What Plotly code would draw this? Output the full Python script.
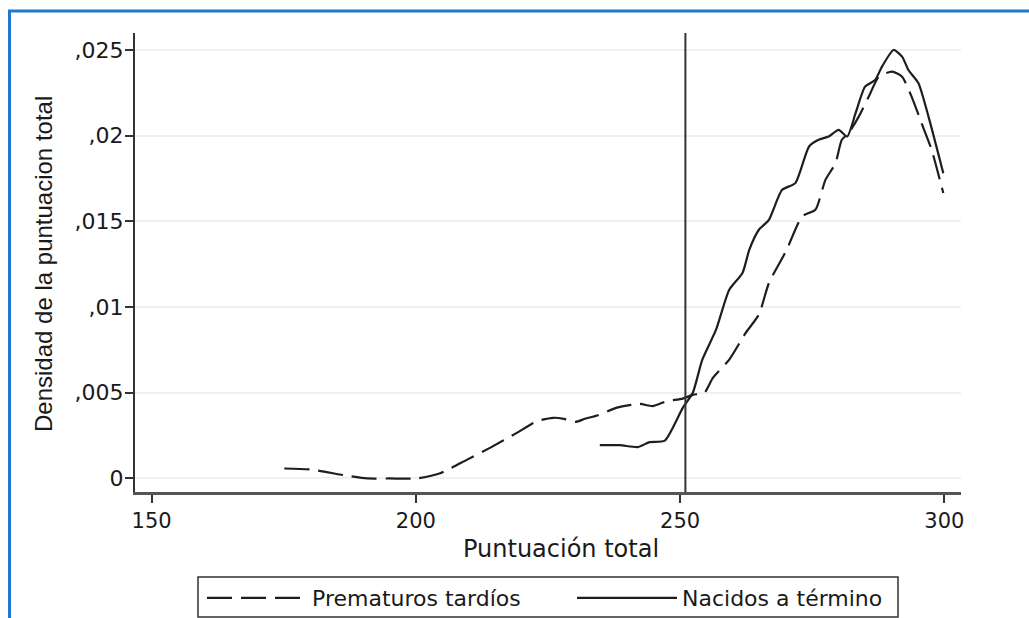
import plotly.graph_objects as go

# Data
prem_x = [175.1, 180.1, 186.4, 190.8, 195.0, 200.2, 204.6, 209.7, 214.1, 219.1, 222.9, 226.0,
          228.0, 230.2, 232.0, 234.5, 237.9, 242.3, 244.8, 247.4, 250.5, 252.4, 254.6, 256.2,
          259.3, 262.4, 264.9, 266.8, 270.1, 273.1, 275.6, 277.5, 279.4, 280.6, 281.9, 283.8,
          285.7, 287.6, 290.1, 292.0, 293.8, 295.7, 297.6, 299.8]
prem_y = [0.00058, 0.00052, 0.00019, 0.0, 0.0, 0.0, 0.0003, 0.0011, 0.0018, 0.00266, 0.00334, 0.00354,
          0.00348, 0.0033, 0.00348, 0.00369, 0.00412, 0.00435, 0.00422, 0.0045, 0.00466, 0.00488, 0.005, 0.00587,
          0.00693, 0.00849, 0.00956, 0.0114, 0.0133, 0.01529, 0.01568, 0.01742, 0.0184, 0.01976, 0.02015, 0.02111,
          0.02228, 0.02344, 0.02374, 0.02344, 0.02228, 0.02072, 0.01917, 0.01665]

term_x = [234.8, 238.6, 242.0, 244.2, 247.1, 250.5, 252.4, 254.2, 256.8, 259.3, 261.8, 263.1,
          264.9, 266.8, 269.3, 271.8, 274.4, 276.2, 278.1, 280.0, 281.6, 283.2, 285.0, 286.9,
          288.2, 290.4, 292.0, 293.2, 295.1, 297.0, 299.8]
term_y = [0.00194, 0.00194, 0.00183, 0.00212, 0.00221, 0.00412, 0.005, 0.00693, 0.00868, 0.01101, 0.01199, 0.01335,
          0.01451, 0.01509, 0.01684, 0.01723, 0.01937, 0.01976, 0.01995, 0.02034, 0.01995, 0.02131, 0.02286, 0.02325,
          0.02403, 0.025, 0.02461, 0.02383, 0.02306, 0.02111, 0.01781]

cutoff_x = 251

series_names = ["Prematuros tardíos", "Nacidos a término"]
x_ticks = [150, 200, 250, 300]
x_ticklabels = ["150", "200", "250", "300"]
y_ticks = [0, 0.005, 0.01, 0.015, 0.02, 0.025]
y_ticklabels = ["0", ",005", ",01", ",015", ",02", ",025"]

W, H = 1029, 618
ML, MR, MT, MB = 135, 68, 33, 126
PW, PH = W - ML - MR, H - MT - MB

def px_x(p):
    return (p - ML) / PW

def px_y(p):
    return (H - MB - p) / PH

LINE = "#1e1e1e"
TXT = "#1a1a1a"

fig = go.Figure()
fig.add_trace(go.Scatter(
    x=prem_x, y=prem_y, mode="lines", name=series_names[0],
    line=dict(color=LINE, width=2.2, dash="25px,9px", shape="spline", smoothing=0.6),
))
fig.add_trace(go.Scatter(
    x=term_x, y=term_y, mode="lines", name=series_names[1],
    line=dict(color=LINE, width=2.2, shape="spline", smoothing=0.6),
))

shapes = [
    dict(type="line", xref="x", yref="paper", x0=cutoff_x, x1=cutoff_x, y0=0, y1=1,
         line=dict(color="#333333", width=2)),
    # blue frame (left and top)
    dict(type="line", xref="paper", yref="paper", x0=px_x(9.5), x1=px_x(9.5), y0=px_y(10), y1=px_y(625),
         line=dict(color="#1f78d1", width=3)),
    dict(type="line", xref="paper", yref="paper", x0=px_x(8), x1=px_x(1035), y0=px_y(11), y1=px_y(11),
         line=dict(color="#1f78d1", width=3)),
    # legend box
    dict(type="rect", xref="paper", yref="paper", x0=px_x(198), x1=px_x(898), y0=px_y(577), y1=px_y(617),
         line=dict(color="#333333", width=1.5), fillcolor="rgba(0,0,0,0)"),
]

annotations = [
    dict(text="Puntuación total", xref="paper", yref="paper", x=px_x(561), y=px_y(549),
         xanchor="center", yanchor="middle", showarrow=False,
         font=dict(family="DejaVu Sans", size=24, color=TXT)),
    dict(text="Densidad de la puntuacion total", xref="paper", yref="paper", x=px_x(43), y=px_y(264),
         xanchor="center", yanchor="middle", showarrow=False, textangle=-90,
         font=dict(family="Liberation Sans, Arial", size=24, color=TXT)),
]

fig.update_layout(
    width=W, height=H,
    margin=dict(l=ML, r=MR, t=MT, b=MB, pad=0, autoexpand=False),
    paper_bgcolor="white", plot_bgcolor="white",
    font=dict(family="DejaVu Sans", color=TXT),
    shapes=shapes, annotations=annotations,
    showlegend=True,
    legend=dict(
        orientation="h", x=px_x(202), y=px_y(577), xanchor="left", yanchor="top",
        borderwidth=0, bgcolor="rgba(0,0,0,0)",
        font=dict(family="DejaVu Sans", size=22, color=TXT),
        itemwidth=100, entrywidth=255, entrywidthmode="pixels",
        tracegroupgap=0,
    ),
    xaxis=dict(
        range=[146.85, 303.15], tickvals=x_ticks, ticktext=x_ticklabels,
        showgrid=False, zeroline=False,
        showline=True, linecolor="#555555", linewidth=2.5,
        ticks="outside", ticklen=8, tickwidth=1.5, tickcolor="#333333",
        tickfont=dict(family="DejaVu Sans", size=21, color=TXT),
    ),
    yaxis=dict(
        range=[-0.00079, 0.02599], tickvals=y_ticks, ticktext=y_ticklabels,
        showgrid=True, gridcolor="#eaf2f3", gridwidth=1.5, zeroline=False,
        showline=True, linecolor="#333333", linewidth=2,
        ticks="outside", ticklen=8, tickwidth=1.5, tickcolor="#333333",
        ticklabelstandoff=-3,
        tickfont=dict(family="DejaVu Sans", size=22, color=TXT),
    ),
)

fig.write_html("out.html")
